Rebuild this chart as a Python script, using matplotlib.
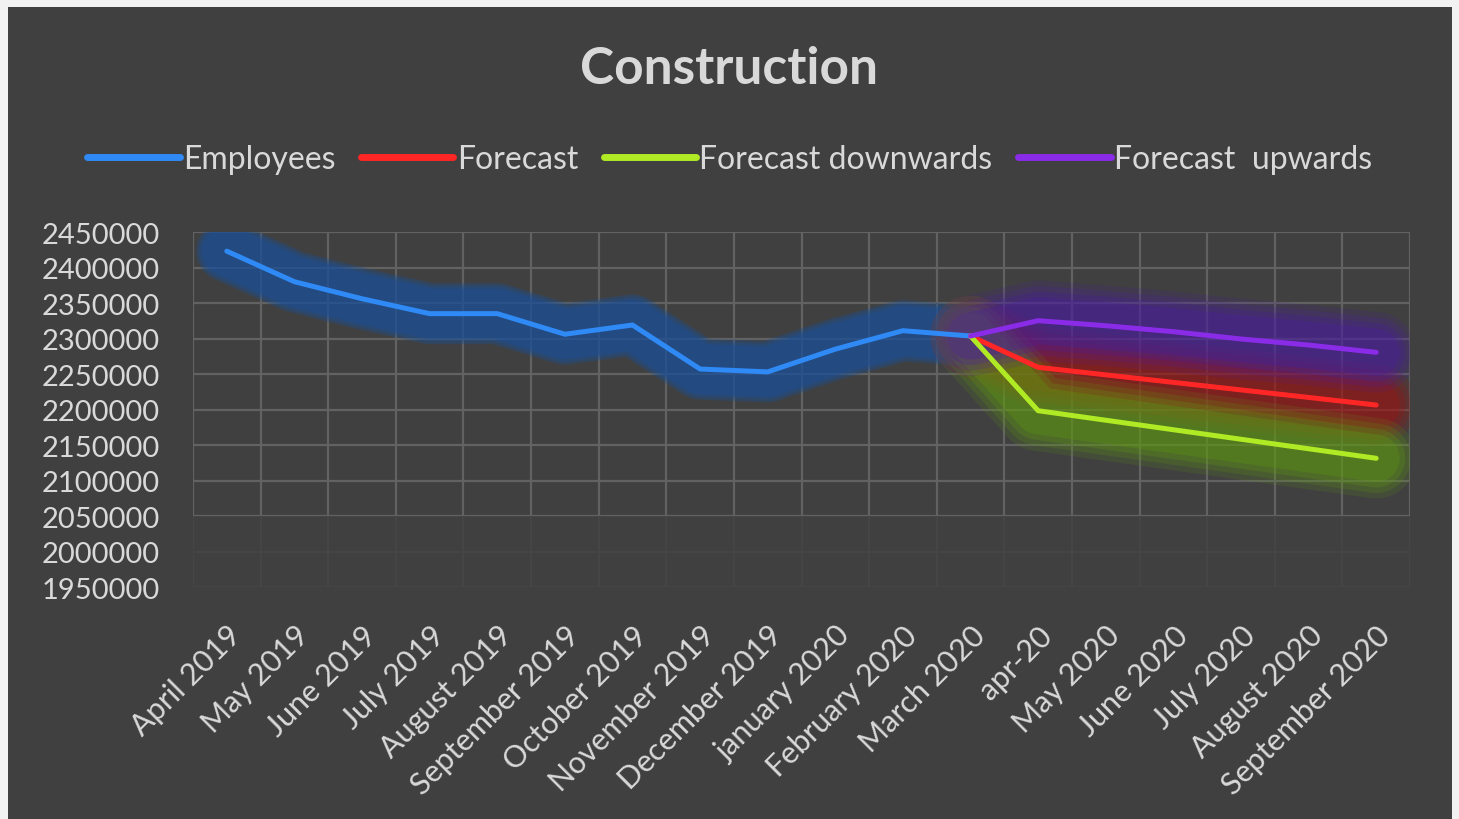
import numpy as np
import matplotlib.pyplot as plt
import matplotlib.patheffects as pe
from matplotlib.patches import Rectangle
from matplotlib.ticker import StrMethodFormatter

plt.rcParams['font.family'] = ['Lato', 'DejaVu Sans']

months = ['April 2019', 'May 2019', 'June 2019', 'July 2019', 'August 2019',
          'September 2019', 'October 2019', 'November 2019', 'December 2019',
          'january 2020', 'February 2020', 'March 2020', 'apr-20', 'May 2020',
          'June 2020', 'July 2020', 'August 2020', 'September 2020']

nan = np.nan
employees = [2423000, 2380000, 2356000, 2335000, 2335000, 2306000, 2319000,
             2257000, 2253000, 2285000, 2311000, 2303500,
             nan, nan, nan, nan, nan, nan]
forecast = [nan] * 11 + [2303500, 2259400, 2248800, 2238200, 2227600, 2217000, 2206300]
forecast_down = [nan] * 11 + [2303500, 2198300, 2184900, 2171500, 2158100, 2144700, 2131300]
forecast_up = [nan] * 11 + [2303500, 2325100, 2318000, 2309600, 2299300, 2290800, 2280500]

# name, values, line colour, glow colour, glow layers (width, alpha)
soft = [(58, 0.15), (50, 0.2), (42, 0.25), (34, 0.3)]
series = [
    ('Employees', employees, '#2f8af5', '#1a4f98', [(44, 0.35), (40, 0.35), (36, 0.4)]),
    ('Forecast', forecast, '#ff2626', '#a01010', soft),
    ('Forecast downwards', forecast_down, '#b0ea25', '#5f9a10', soft),
    ('Forecast  upwards', forecast_up, '#8a2be8', '#4a1ca0', soft),
]

bg = '#404040'
txt = '#d9d9d9'

fig = plt.figure(figsize=(14.59, 8.2), dpi=100, facecolor='#f2f2f2')
fig.patches.append(Rectangle((8 / 1459, 0), 1444 / 1459, 1 - 8 / 820,
                             transform=fig.transFigure, facecolor=bg,
                             edgecolor='none', zorder=-5))

ax = fig.add_axes([193 / 1459, 1 - 588 / 820, (1410 - 193) / 1459, (588 - 233) / 820])
ax.patch.set_alpha(0)

x = np.arange(len(months))
# glows first, then the lines on top of all glows
for name, vals, col, glow, layers in series:
    effects = [pe.Stroke(linewidth=w, foreground=glow, alpha=a, capstyle='round', joinstyle='round')
               for w, a in layers]
    ax.plot(x, vals, color=glow, lw=1, path_effects=effects, zorder=2.5)
for name, vals, col, glow, layers in series:
    ax.plot(x, vals, color=col, lw=3.6, label=name, solid_capstyle='round',
            solid_joinstyle='round', zorder=3)

ax.set_xlim(-0.5, len(months) - 0.5)
ax.set_ylim(1950000, 2450000)
ax.set_yticks(np.arange(1950000, 2450001, 50000))
ax.yaxis.set_major_formatter(StrMethodFormatter('{x:.0f}'))
ax.set_xticks(x)
ax.set_xticklabels(months, rotation=45, ha='right', rotation_mode='anchor',
                   color=txt, fontsize=22)
ax.set_xticks(np.arange(-0.5, len(months), 1), minor=True)
ax.tick_params(axis='y', colors=txt, labelsize=21, length=0, pad=24)
ax.tick_params(axis='x', which='both', length=0, pad=24)

ax.grid(axis='y', color='#626262', lw=1.6)
ax.grid(axis='x', which='minor', color='#626262', lw=1.6)
ax.grid(axis='x', which='major', visible=False)
ax.axhspan(1950000, 2050000, color=bg, alpha=0.85, lw=0, zorder=2)

for s in ax.spines.values():
    s.set_visible(False)

fig.text(0.5, 1 - 70 / 820, 'Construction', ha='center', va='center',
         color=txt, fontsize=37, fontweight='bold')

leg = fig.legend(loc='center', bbox_to_anchor=(0.5, 1 - 160 / 820), ncol=4,
                 frameon=False, fontsize=23, handlelength=2.9, handletextpad=0.1,
                 columnspacing=0.8, labelcolor=txt)
for h in leg.get_lines():
    h.set_linewidth(5)

fig.savefig('out.png', dpi=100, facecolor=fig.get_facecolor())
